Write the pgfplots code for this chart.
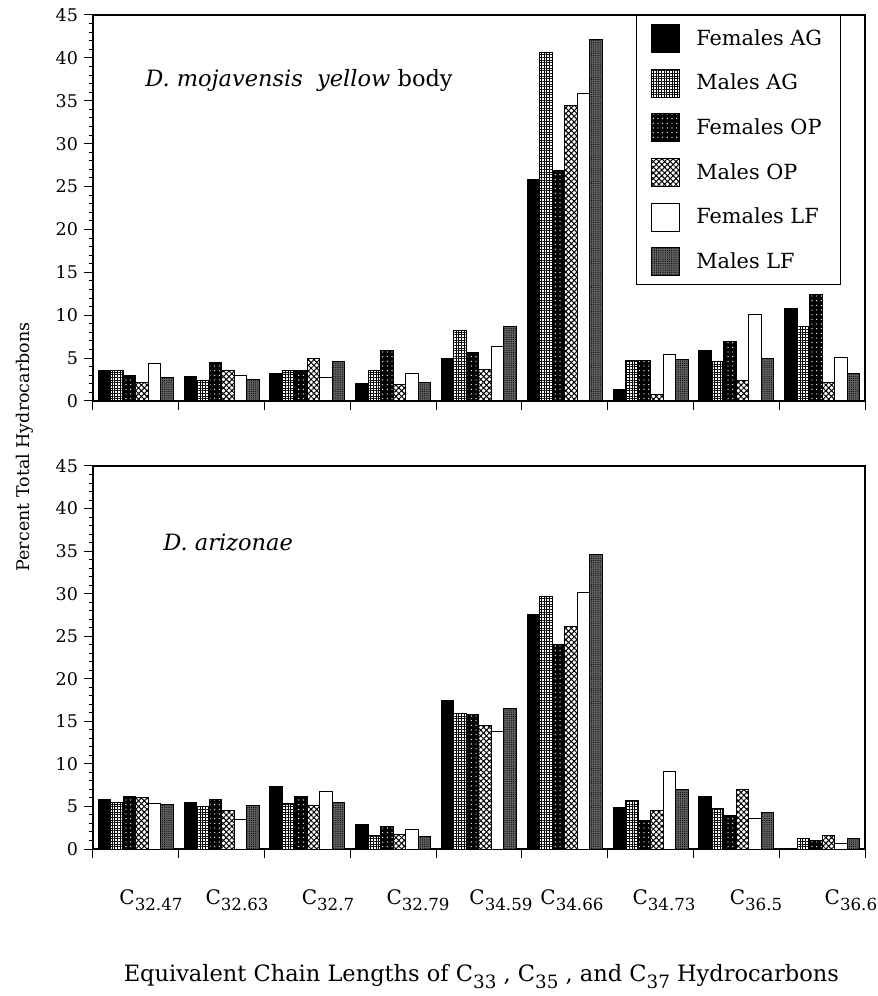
\documentclass[border=0pt]{standalone}
\usepackage{fontspec}
\setmainfont{DejaVu Serif}
\usepackage{pgfplots}
\usepackage{pgfplotstable}
\pgfplotsset{compat=1.18}
\usetikzlibrary{patterns,patterns.meta}

% columns: FAG MAG FOP MOP FLF MLF
\pgfplotstableread{
x fag mag fop mop flf mlf
1 3.5 3.6 3.0 2.2 4.4 2.7
2 2.9 2.4 4.5 3.6 3.0 2.5
3 3.2 3.5 3.6 4.9 2.7 4.6
4 2.0 3.5 5.9 1.9 3.2 2.1
5 5.0 8.2 5.7 3.7 6.4 8.7
6 25.8 40.6 26.9 34.5 35.9 42.2
7 1.3 4.7 4.7 0.7 5.4 4.8
8 5.9 4.6 6.9 2.4 10.1 4.9
9 10.8 8.7 12.4 2.1 5.1 3.2
}\mojtable

\pgfplotstableread{
x fag mag fop mop flf mlf
1 5.8 5.5 6.2 6.0 5.3 5.2
2 5.5 5.0 5.8 4.5 3.5 5.1
3 7.3 5.4 6.2 5.1 6.8 5.5
4 2.9 1.6 2.7 1.7 2.3 1.5
5 17.5 15.9 15.8 14.5 13.8 16.5
6 27.6 29.7 24.0 26.2 30.1 34.6
7 4.9 5.7 3.4 4.5 9.1 7.0
8 6.2 4.8 3.9 7.0 3.6 4.3
9 0 1.2 1.0 1.6 0.6 1.2
}\aritable

\pgfplotsset{
  fag/.style={draw=black, fill=black},
  mag/.style={draw=black, fill=white, postaction={pattern={Hatch[angle=0,distance=1.6pt,line width=0.4pt]}}},
  fop/.style={draw=black, fill=black, postaction={pattern={Dots[distance=2.8pt,radius=0.4pt]}, pattern color=white}},
  mop/.style={draw=black, fill=white, postaction={pattern={Hatch[angle=45,distance=2.4pt,line width=0.6pt]}}},
  flf/.style={draw=black, fill=white},
  mlf/.style={draw=black, fill=black!62, postaction={pattern={Dots[distance=1.3pt,radius=0.35pt]}}},
  sq legend/.style={legend image code/.code={\draw[##1, line width=0.6pt] (0pt,-8.4pt) rectangle (16.8pt,8.4pt);}},
  panel/.style={
    width=463.2pt, scale only axis,
    ybar=0pt, bar width=7.5pt,
    xmin=0.5, xmax=9.5, ymin=0, ymax=45,
    xtick={0.5,1.5,...,9.5}, xticklabels={},
    ytick={0,5,...,45}, minor y tick num=4,
    tick align=outside, xtick pos=bottom, ytick pos=left,
    major tick length=5.5pt, minor tick length=2.5pt,
    axis line style={line width=0.7pt},
    every tick/.style={black, line width=0.6pt},
    /pgf/number format/assume math mode=true,
    yticklabel style={font=\fontsize{10.5}{12}\selectfont},
    every axis plot/.append style={line width=0.6pt, sq legend},
  },
}

\begin{document}
\begin{tikzpicture}
\path[use as bounding box] (-55.8pt,-88.2pt) rectangle (471pt,509.4pt);

\begin{axis}[panel, height=231.6pt, at={(0pt,268.8pt)}, anchor=south west,
  legend style={at={(0.969,1)}, anchor=north east, draw=black, line width=0.7pt,
    font=\fontsize{12.5}{14}\selectfont, inner xsep=9pt, inner ysep=5pt,
    row sep=9.4pt, legend cell align=left,
    /tikz/every odd column/.append style={column sep=7.5pt}},
]
  \addplot[fag] table[x=x, y=fag] {\mojtable};
  \addplot[mag] table[x=x, y=mag] {\mojtable};
  \addplot[fop] table[x=x, y=fop] {\mojtable};
  \addplot[mop] table[x=x, y=mop] {\mojtable};
  \addplot[flf] table[x=x, y=flf] {\mojtable};
  \addplot[mlf] table[x=x, y=mlf] {\mojtable};
  \legend{Females AG, Males AG, Females OP, Males OP, Females LF, Males LF}
  \node[anchor=west, inner xsep=0pt, font=\fontsize{13.5}{16}\selectfont] at (axis cs:1.106,37.4)
    {\textit{D. mojavensis}\ \ \textit{yellow} body};
\end{axis}

\begin{axis}[panel, height=229.8pt, at={(0pt,0pt)}, anchor=south west,
  extra x ticks={1.176,2.179,3.24,4.289,5.256,6.084,7.157,8.229,9.336},
  extra x tick labels={
    C\raisebox{-0.55ex}{\fontsize{10}{12}\selectfont 32.47},
    C\raisebox{-0.55ex}{\fontsize{10}{12}\selectfont 32.63},
    C\raisebox{-0.55ex}{\fontsize{10}{12}\selectfont 32.7},
    C\raisebox{-0.55ex}{\fontsize{10}{12}\selectfont 32.79},
    C\raisebox{-0.55ex}{\fontsize{10}{12}\selectfont 34.59},
    C\raisebox{-0.55ex}{\fontsize{10}{12}\selectfont 34.66},
    C\raisebox{-0.55ex}{\fontsize{10}{12}\selectfont 34.73},
    C\raisebox{-0.55ex}{\fontsize{10}{12}\selectfont 36.5},
    C\raisebox{-0.55ex}{\fontsize{10}{12}\selectfont 36.6}},
  extra x tick style={major tick length=0pt,
    tick label style={font=\fontsize{12}{14}\selectfont, yshift=-21pt}},
]
  \addplot[fag] table[x=x, y=fag] {\aritable};
  \addplot[mag] table[x=x, y=mag] {\aritable};
  \addplot[fop] table[x=x, y=fop] {\aritable};
  \addplot[mop] table[x=x, y=mop] {\aritable};
  \addplot[flf] table[x=x, y=flf] {\aritable};
  \addplot[mlf] table[x=x, y=mlf] {\aritable};
  \node[anchor=west, inner xsep=0pt, font=\fontsize{13.5}{16}\selectfont] at (axis cs:1.316,36.0)
    {\textit{D. arizonae}};
\end{axis}

\node[rotate=90, font=\fontsize{10.5}{12}\selectfont] at (-40.8pt,241.2pt)
  {Percent Total Hydrocarbons};
\node[anchor=base, font=\fontsize{13.5}{16}\selectfont] at (233pt,-79.5pt)
  {Equivalent Chain Lengths of C\raisebox{-0.6ex}{\fontsize{11}{13}\selectfont 33} ,
   C\raisebox{-0.6ex}{\fontsize{11}{13}\selectfont 35} , and
   C\raisebox{-0.6ex}{\fontsize{11}{13}\selectfont 37} Hydrocarbons};
\end{tikzpicture}
\end{document}
